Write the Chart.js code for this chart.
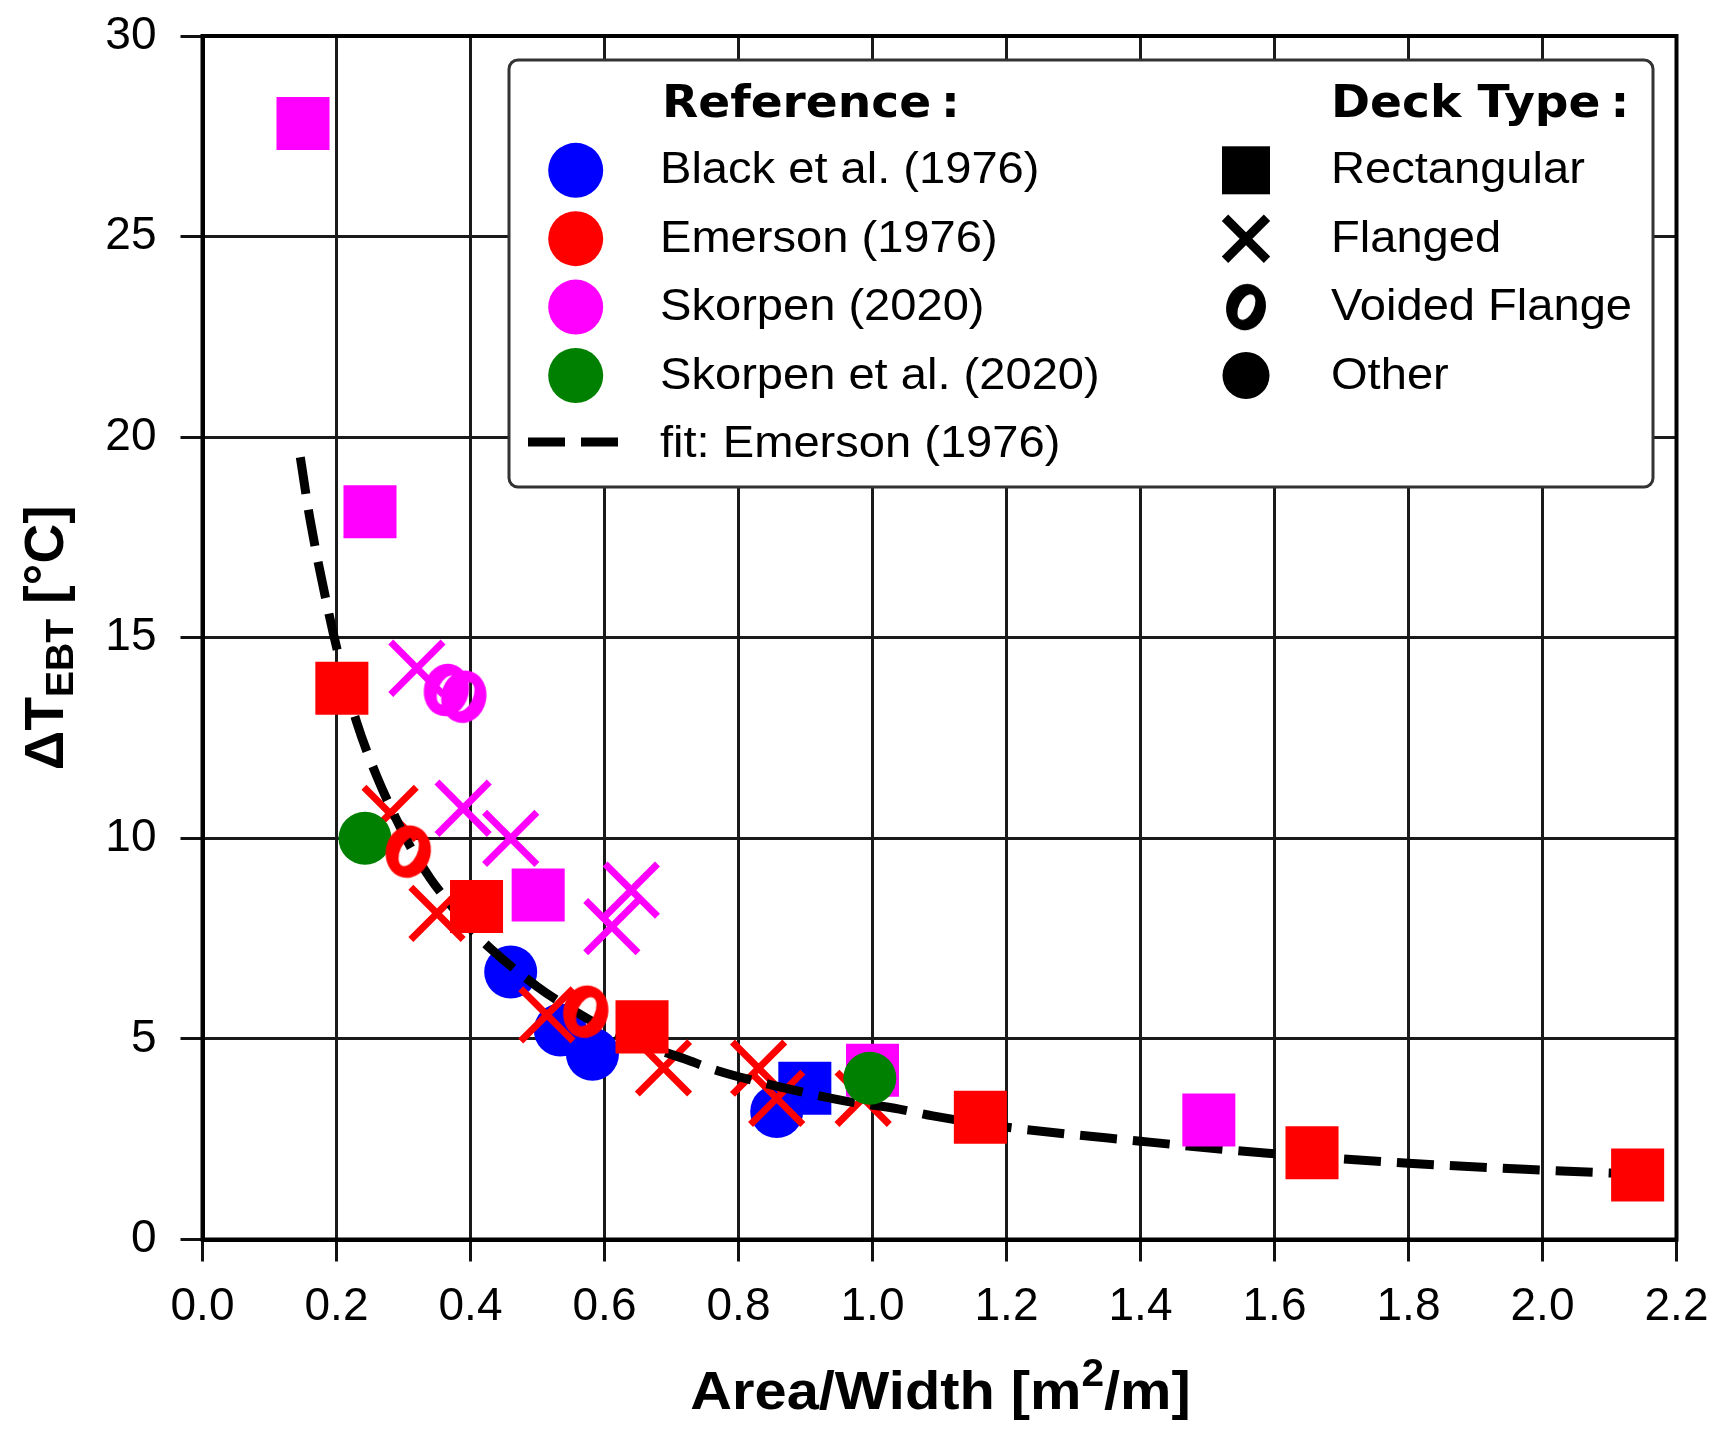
<!DOCTYPE html>
<html>
<head>
<meta charset="utf-8">
<title>ΔT_EBT vs Area/Width</title>
<script src="https://cdn.jsdelivr.net/npm/chart.js@4.4.1/dist/chart.umd.min.js"></script>
<style>
  html, body { margin: 0; padding: 0; background: #ffffff; }
  canvas { display: block; }
</style>
</head>
<body>
<canvas id="chart" width="1721" height="1429"></canvas>
<script>
// Area/Width [m²/m] on x, ΔT_EBT [°C] on y, split by source and deck type
const blackCircleX = [0.46, 0.534, 0.582, 0.857];
const blackCircleY = [6.67, 5.22, 4.62, 3.19];
const blackRectX = [0.899];
const blackRectY = [3.77];

const emersonRectX = [0.208, 0.409, 0.656, 1.161, 1.656, 2.142];
const emersonRectY = [13.74, 8.3, 5.3, 3.05, 2.16, 1.61];
const emersonFlangedX = [0.28, 0.35, 0.514, 0.688, 0.83, 0.857, 0.986];
const emersonFlangedY = [10.62, 8.13, 5.6, 4.28, 4.27, 3.52, 3.52];
const emersonVoidedX = [0.307, 0.572];
const emersonVoidedY = [9.67, 5.68];

const skorpenRectX = [0.15, 0.25, 0.501, 1.0, 1.502];
const skorpenRectY = [27.82, 18.14, 8.59, 4.22, 2.98];
const skorpenFlangedX = [0.32, 0.389, 0.46, 0.611, 0.64];
const skorpenFlangedY = [14.24, 10.75, 10.0, 7.8, 8.71];
const skorpenVoidedX = [0.364, 0.39];
const skorpenVoidedY = [13.70, 13.53];

const skorpenEtAlX = [0.2425, 0.996];
const skorpenEtAlY = [10.0, 4.02];

// fitted curve to the Emerson (1976) data
const fitX = [0.146, 0.16, 0.19, 0.21, 0.23, 0.26, 0.29, 0.31, 0.34, 0.37, 0.40, 0.43, 0.50, 0.55, 0.62, 0.72, 0.77, 0.85, 0.96, 1.04, 1.09, 1.20, 1.40, 1.59, 1.80, 2.00, 2.14];
const fitY = [19.5, 18.0, 15.5, 14.1, 12.9, 11.55, 10.45, 9.8, 9.0, 8.35, 7.75, 7.25, 6.3, 5.75, 5.1, 4.5, 4.2, 3.85, 3.45, 3.25, 3.08, 2.8, 2.45, 2.15, 1.9, 1.73, 1.63];

const xTicks = [0.0, 0.2, 0.4, 0.6, 0.8, 1.0, 1.2, 1.4, 1.6, 1.8, 2.0, 2.2];
const yTicks = [0, 5, 10, 15, 20, 25, 30];

const referenceNames = ['Black et al. (1976)', 'Emerson (1976)', 'Skorpen (2020)', 'Skorpen et al. (2020)'];
const deckTypeNames = ['Rectangular', 'Flanged', 'Voided Flange', 'Other'];
const fitName = 'fit: Emerson (1976)';

const BLUE = '#0000ff', RED = '#ff0000', MAGENTA = '#ff00ff', GREEN = '#008000';
const refColors = [BLUE, RED, MAGENTA, GREEN];

const pts = (xs, ys) => xs.map((x, i) => ({ x: x, y: ys[i] }));

// slanted, thick "o" marker used for voided flange decks
function voidedMarker(color, s) {
  const c = document.createElement('canvas');
  c.width = 64; c.height = 64;
  const g = c.getContext('2d');
  g.translate(32, 32);
  g.beginPath();
  g.ellipse(0, 0, 22.5 * s, 26.5 * s, 0.22, 0, Math.PI * 2);
  g.moveTo(0, 0);
  g.ellipse(0.5 * s, 0, 8.5 * s, 15.5 * s, 0.45, 0, Math.PI * 2);
  g.fillStyle = color;
  g.fill('evenodd');
  return c;
}

const RECT_R = 37.5, CIRC_R = 26.5, CROSS_R = 37;

function rectSet(label, xs, ys, color) {
  return { label, data: pts(xs, ys), pointStyle: 'rect', pointRadius: RECT_R, pointHoverRadius: RECT_R,
           backgroundColor: color, borderColor: color, borderWidth: 0 };
}
function circleSet(label, xs, ys, color) {
  return { label, data: pts(xs, ys), pointStyle: 'circle', pointRadius: CIRC_R, pointHoverRadius: CIRC_R,
           backgroundColor: color, borderColor: color, borderWidth: 0 };
}
function crossSet(label, xs, ys, color) {
  return { label, data: pts(xs, ys), pointStyle: 'crossRot', pointRadius: CROSS_R, pointHoverRadius: CROSS_R,
           backgroundColor: color, borderColor: color, borderWidth: 7, pointBorderWidth: 7 };
}
function voidedSet(label, xs, ys, color) {
  return { label, data: pts(xs, ys), pointStyle: voidedMarker(color, 1), pointRadius: 26, pointHoverRadius: 26,
           backgroundColor: color, borderColor: color, borderWidth: 0 };
}

// listed bottom to top
const layers = [
  circleSet('Black et al. (1976) – other', blackCircleX, blackCircleY, BLUE),
  rectSet('Black et al. (1976) – rectangular', blackRectX, blackRectY, BLUE),
  crossSet('Emerson (1976) – flanged', emersonFlangedX, emersonFlangedY, RED),
  { label: fitName, data: pts(fitX, fitY), showLine: true, borderColor: '#000000', borderWidth: 9,
    borderDash: [37, 16], borderCapStyle: 'butt', pointRadius: 0, pointHoverRadius: 0,
    cubicInterpolationMode: 'monotone', fill: false },
  rectSet('Emerson (1976) – rectangular', emersonRectX, emersonRectY, RED),
  rectSet('Skorpen (2020) – rectangular', skorpenRectX, skorpenRectY, MAGENTA),
  crossSet('Skorpen (2020) – flanged', skorpenFlangedX, skorpenFlangedY, MAGENTA),
  voidedSet('Skorpen (2020) – voided flange', skorpenVoidedX, skorpenVoidedY, MAGENTA),
  circleSet('Skorpen et al. (2020) – other', skorpenEtAlX, skorpenEtAlY, GREEN),
  voidedSet('Emerson (1976) – voided flange', emersonVoidedX, emersonVoidedY, RED)
];
layers.forEach((d, i) => { d.order = layers.length - i; });

// draws a row of text runs (with sub/superscripts) starting at or centred on x, optionally stretched horizontally
function drawRuns(ctx, runs, x, y, sx, align) {
  let total = 0;
  runs.forEach(r => { ctx.font = r.font; r.w = ctx.measureText(r.text).width * sx + (r.gap || 0); total += r.w; });
  let cur = align === 'left' ? x : x - total / 2;
  ctx.textBaseline = 'alphabetic';
  ctx.textAlign = 'left';
  runs.forEach(r => {
    ctx.save();
    ctx.font = r.font;
    ctx.translate(cur + (r.gap || 0), y + (r.dy || 0));
    ctx.scale(sx, 1);
    ctx.fillText(r.text, 0, 0);
    ctx.restore();
    cur += r.w;
  });
}

const framePlugin = {
  id: 'frame',
  beforeDatasetsDraw(chart) {
    const { ctx, chartArea: a } = chart;
    ctx.save();
    ctx.strokeStyle = '#000';
    ctx.lineWidth = 4;
    ctx.strokeRect(a.left, a.top, a.right - a.left, a.bottom - a.top);
    ctx.restore();
  }
};

const titlesPlugin = {
  id: 'axisTitles',
  afterDraw(chart) {
    const { ctx, chartArea: a } = chart;
    ctx.save();
    ctx.fillStyle = '#000';
    const cx = (a.left + a.right) / 2;
    drawRuns(ctx, [
      { text: 'Area/Width [m', font: 'bold 54px "Liberation Sans", Arial, sans-serif' },
      { text: '2', font: 'bold 38px "Liberation Sans", Arial, sans-serif', dy: -23 },
      { text: '/m]', font: 'bold 54px "Liberation Sans", Arial, sans-serif' }
    ], cx + 1, 1409, 1.07, 'center');
    ctx.save();
    ctx.translate(63, (a.top + a.bottom) / 2);
    ctx.rotate(-Math.PI / 2);
    drawRuns(ctx, [
      { text: 'ΔT', font: 'bold 55px "Liberation Sans", Arial, sans-serif' },
      { text: 'EBT', font: 'bold 39px "Liberation Sans", Arial, sans-serif', dy: 10 },
      { text: ' [°C]', font: 'bold 55px "Liberation Sans", Arial, sans-serif' }
    ], 0, 0, 1.0, 'center');
    ctx.restore();
    ctx.restore();
  }
};

const legendPlugin = {
  id: 'twoColumnLegend',
  afterDraw(chart) {
    const ctx = chart.ctx;
    ctx.save();
    // box
    ctx.beginPath();
    ctx.roundRect(509, 60, 1144, 427, 9);
    ctx.fillStyle = '#ffffff';
    ctx.fill();
    ctx.lineWidth = 3;
    ctx.strokeStyle = '#333333';
    ctx.stroke();

    ctx.fillStyle = '#000';
    const headFont = 'bold 44px "DejaVu Sans", sans-serif';
    const textFont = '44px "Liberation Sans", Arial, sans-serif';
    drawRuns(ctx, [{ text: 'Reference', font: headFont }, { text: ':', font: headFont, gap: 10 }], 662, 116.7, 1.07, 'left');
    drawRuns(ctx, [{ text: 'Deck Type', font: headFont }, { text: ':', font: headFont, gap: 10 }], 1331, 116.7, 1.07, 'left');

    const step = 68.4, base0 = 183.3;
    referenceNames.forEach((name, i) => {
      const by = base0 + i * step;
      ctx.fillStyle = '#000';
      drawRuns(ctx, [{ text: name, font: textFont }], 660, by, 1.07, 'left');
      ctx.beginPath();
      ctx.arc(575.7, by - 13, 27.5, 0, Math.PI * 2);
      ctx.fillStyle = refColors[i];
      ctx.fill();
    });

    // fit entry
    const fy = base0 + 4 * step;
    ctx.fillStyle = '#000';
    drawRuns(ctx, [{ text: fitName, font: textFont }], 660, fy, 1.07, 'left');
    ctx.beginPath();
    ctx.setLineDash([37, 16]);
    ctx.lineWidth = 9;
    ctx.strokeStyle = '#000';
    ctx.moveTo(528, fy - 15);
    ctx.lineTo(620, fy - 15);
    ctx.stroke();
    ctx.setLineDash([]);

    // deck type entries
    const mx = 1246;
    deckTypeNames.forEach((name, i) => {
      const by = base0 + i * step;
      const my = by - 13;
      ctx.fillStyle = '#000';
      drawRuns(ctx, [{ text: name, font: textFont }], 1331, by, 1.07, 'left');
      if (i === 0) {
        ctx.fillRect(mx - 24, my - 24, 48, 48);
      } else if (i === 1) {
        ctx.beginPath();
        ctx.lineWidth = 9;
        ctx.strokeStyle = '#000';
        ctx.moveTo(mx - 21, my - 21); ctx.lineTo(mx + 21, my + 21);
        ctx.moveTo(mx + 21, my - 21); ctx.lineTo(mx - 21, my + 21);
        ctx.stroke();
      } else if (i === 2) {
        const m = voidedMarker('#000', 0.88);
        ctx.drawImage(m, mx - 32, my - 32);
      } else {
        ctx.beginPath();
        ctx.arc(mx, my, 23.5, 0, Math.PI * 2);
        ctx.fill();
      }
    });
    ctx.restore();
  }
};

const tickFont = { family: '"Liberation Sans", Arial, sans-serif', size: 46 };

// keep the plot area where the layout padding puts it
function clearScalePadding(s) {
  s.paddingTop = 0; s.paddingBottom = 0; s.paddingLeft = 0; s.paddingRight = 0;
}

new Chart(document.getElementById('chart'), {
  type: 'scatter',
  data: { datasets: layers },
  options: {
    responsive: false,
    devicePixelRatio: 1,
    animation: false,
    events: [],
    layout: { autoPadding: false, padding: { left: 0, top: 36, right: 44.5, bottom: 0 } },
    plugins: { legend: { display: false }, tooltip: { enabled: false } },
    scales: {
      x: {
        type: 'linear', min: 0, max: 2.2,
        afterBuildTicks: s => { s.ticks = xTicks.map(v => ({ value: v })); },
        afterFit: s => { s.height = 189.5; clearScalePadding(s); },
        ticks: { font: tickFont, color: '#000', padding: 18, maxRotation: 0, autoSkip: false,
                 callback: v => Number(v).toFixed(1) },
        grid: { color: '#1a1a1a', lineWidth: 3, tickLength: 22, tickWidth: 3, tickColor: '#111' },
        border: { display: true, color: '#000', width: 4 },
        title: { display: false }
      },
      y: {
        type: 'linear', min: 0, max: 30,
        afterBuildTicks: s => { s.ticks = yTicks.map(v => ({ value: v })); },
        afterFit: s => { s.width = 202.5; clearScalePadding(s); },
        ticks: { font: tickFont, color: '#000', padding: 24, autoSkip: false,
                 callback: v => String(v) },
        grid: { color: '#1a1a1a', lineWidth: 3, tickLength: 22, tickWidth: 3, tickColor: '#111' },
        border: { display: true, color: '#000', width: 4 },
        title: { display: false }
      }
    }
  },
  plugins: [framePlugin, titlesPlugin, legendPlugin]
});
</script>
</body>
</html>
